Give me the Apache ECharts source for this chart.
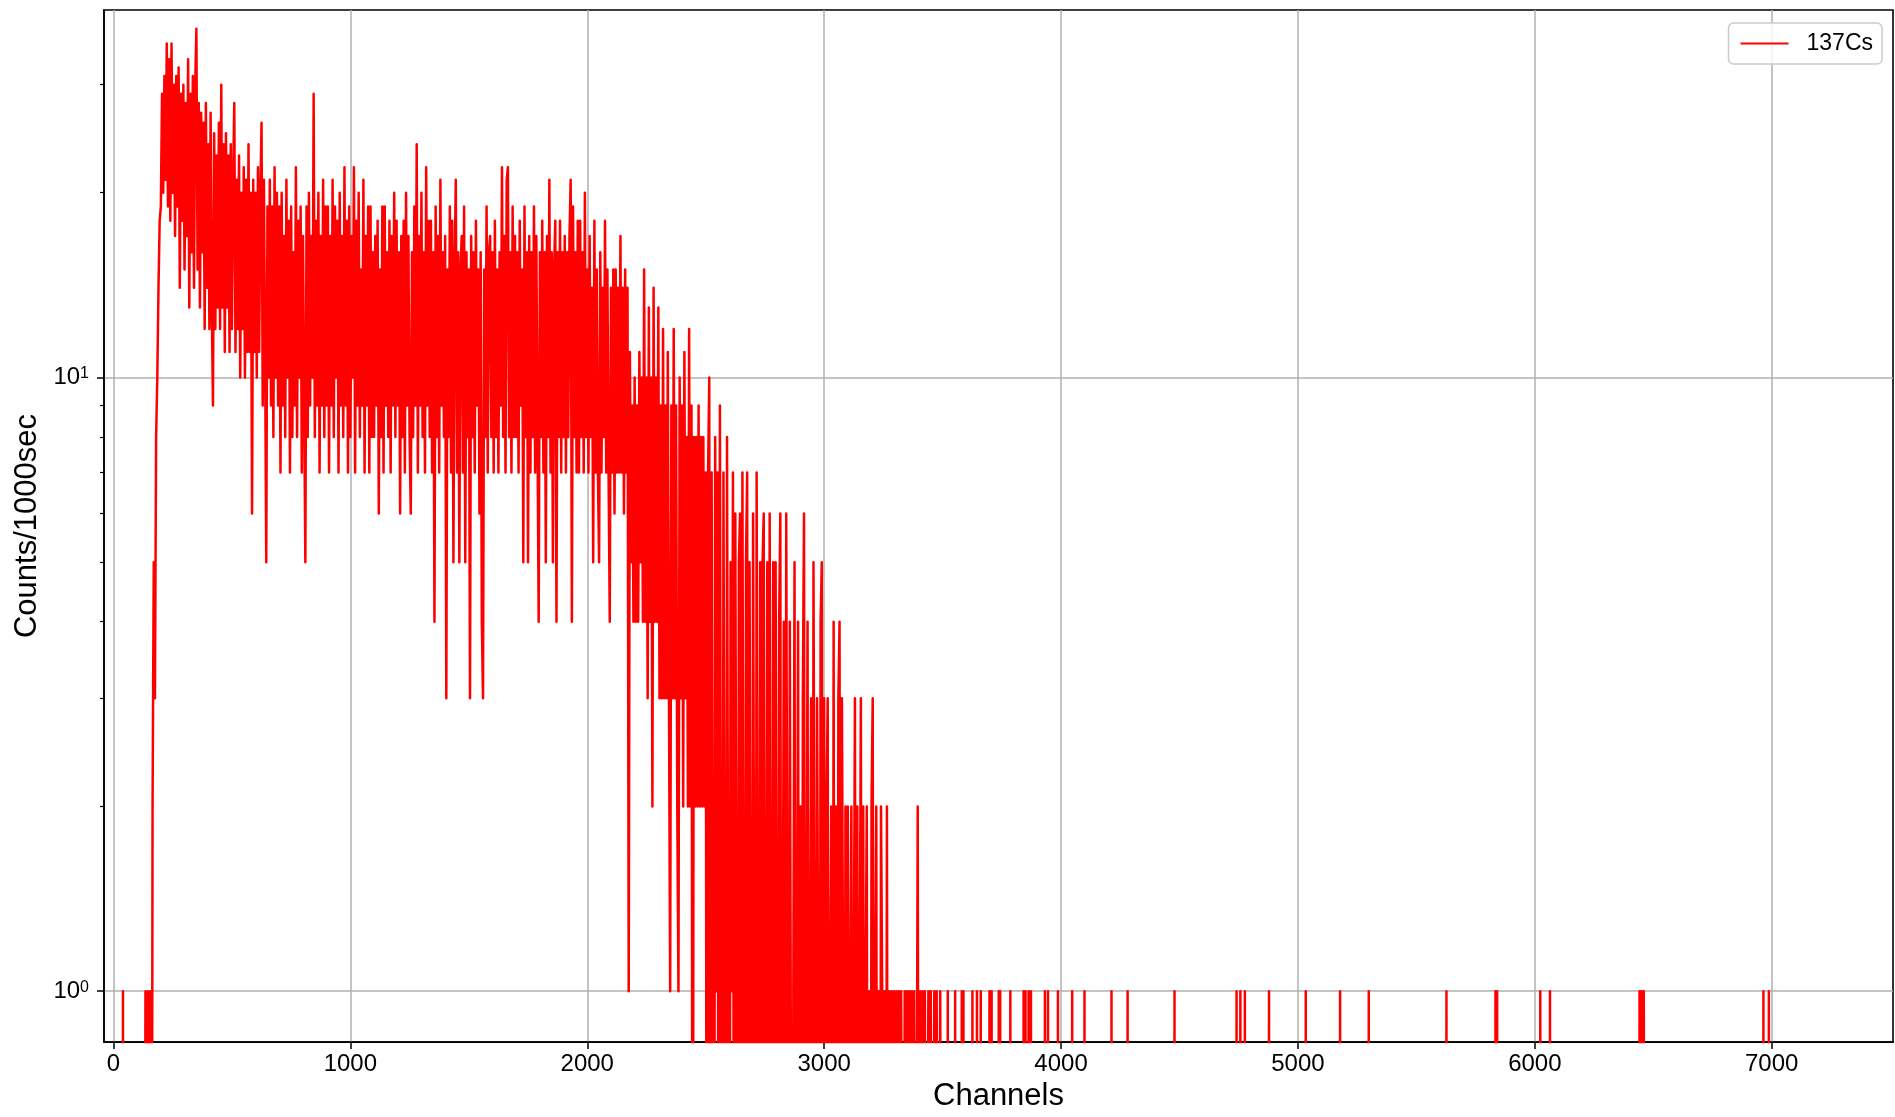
<!DOCTYPE html>
<html>
<head>
<meta charset="utf-8">
<script src="https://cdn.jsdelivr.net/npm/echarts@6/dist/echarts.min.js"></script>
<style>
html,body{margin:0;padding:0;background:#ffffff;}
#chart{width:1895px;height:1117px;}
</style>
</head>
<body>
<div id="chart"></div>
<script>
// ---------------- data ----------------
const seriesName = '137Cs';
const xAxisTitle = 'Channels';
const yAxisTitle = 'Counts/1000sec';

// counts per sampled channel, starting at channel 130, one value every 5 channels, up to channel 3500
const denseStartChannel = 130;
const denseChannelStep = 5;
const denseCounts = [
  0,1,0,1,0,1,0,2,5,3,8,10,14,18,
  19,29,20,31,21,35,19,33,18,35,20,30,17,31,19,32,14,29,18,30,
  15,28,17,33,13,29,16,31,14,30,37,15,28,13,27,16,26,12,28,14,
  24,12,27,13,9,25,12,23,13,26,12,30,13,24,11,25,13,23,11,24,
  12,21,28,11,21,12,23,10,20,12,22,10,21,11,24,11,20,6,21,11,
  20,10,22,11,20,26,9,21,11,5,19,10,21,9,19,8,22,10,20,9,
  19,7,20,9,17,8,21,10,18,7,19,8,16,9,22,8,18,10,19,7,
  17,9,5,19,8,20,9,17,10,29,8,18,9,20,7,17,9,21,8,19,
  9,19,7,17,9,21,8,19,10,18,7,20,9,17,8,22,9,18,7,19,
  8,17,10,22,7,18,9,20,8,15,9,21,7,17,9,19,7,19,8,16,
  8,17,9,18,6,15,8,19,7,19,9,16,8,18,7,17,9,20,8,18,
  9,16,6,17,8,18,7,20,9,17,8,6,16,8,19,9,24,7,17,9,
  20,8,16,7,22,9,18,8,18,7,16,4,19,8,17,7,21,9,16,8,
  17,3,15,8,19,7,18,5,15,21,7,16,5,15,17,7,19,5,16,8,
  15,3,17,8,16,7,18,9,15,6,16,4,3,15,8,19,7,16,17,8,
  16,7,18,8,15,7,16,9,22,8,17,7,21,22,8,16,7,19,8,17,
  8,16,7,18,9,15,5,19,8,16,5,17,7,16,8,19,7,17,8,4,
  16,8,18,7,16,5,17,8,21,7,16,5,15,18,4,16,8,18,7,16,
  8,17,7,16,8,17,21,4,19,8,16,7,18,7,18,8,16,7,20,8,
  15,7,17,8,14,5,18,7,15,7,5,16,7,14,8,18,7,15,7,4,
  14,7,15,6,15,7,14,7,17,7,14,6,15,7,14,1,11,5,9,4,
  10,4,9,4,11,5,10,4,15,4,10,3,13,4,10,2,14,4,10,4,
  13,3,9,3,12,3,9,3,11,3,1,9,3,12,3,9,2,1,10,3,
  9,2,11,3,8,2,12,2,9,0,8,2,8,2,9,2,8,2,8,2,
  7,0,7,10,0,7,1,0,8,1,7,0,9,1,0,7,1,0,8,1,
  0,5,1,7,0,6,1,0,5,6,0,7,1,0,5,7,0,5,1,0,
  6,1,0,7,1,0,5,0,5,6,0,1,5,0,6,1,0,5,0,5,
  1,0,4,6,0,1,4,0,6,1,0,4,4,0,1,5,0,1,4,0,
  2,0,3,6,0,1,4,0,1,3,0,5,1,0,3,1,0,4,5,0,
  3,0,2,3,0,1,2,0,4,0,2,0,3,4,0,3,1,0,2,0,
  2,0,1,2,0,1,3,0,2,0,1,3,0,2,0,1,2,0,1,0,
  2,3,0,1,2,0,1,0,2,1,0,1,0,2,0,1,0,1,0,1,
  0,1,0,1,0,1,1,0,1,0,1,0,1,0,1,0,1,0,0,2,
  0,1,0,1,0,1,0,0,1,0,1,0,0,1,0,1,0,0,1,0,0
];

// single channels holding exactly 1 count (all other channels there are empty)
const singleCountChannels = [
  40,
  3522,3553,3581,3588,3626,3645,3661,3698,3707,3737,3743,3786,3842,3850,3863,3873,3932,3945,3987,
  4047,4099,4213,4281,4479,4741,4757,4776,4878,5033,5178,5299,5627,5834,5841,6023,6064,
  6442,6451,6460,6965,6988
];

const xTicks = [0,1000,2000,3000,4000,5000,6000,7000];
const yMajorTicks = [1,10];
const yMinorTicks = [2,3,4,5,6,7,8,9,20,30];
const xRange = [-40, 7512];
const yRange = [0.826, 39.7];

// ---------------- build series ----------------
const ZERO_DRAW = 0.1;   // empty channels are drawn below the axis floor (like a clipped log plot)
const pts = [];
denseCounts.forEach((v, i) => pts.push([denseStartChannel + i * denseChannelStep, v]));
singleCountChannels.forEach(c => { pts.push([c - 1, 0]); pts.push([c, 1]); pts.push([c + 1, 0]); });
pts.sort((a, b) => a[0] - b[0]);
const lineData = pts.map(p => [p[0], p[1] === 0 ? ZERO_DRAW : p[1]]);

// ---------------- chart ----------------
const FONT = "'Liberation Sans', Arial, Helvetica, sans-serif";
const chart = echarts.init(document.getElementById('chart'), null, {renderer: 'canvas'});
chart.setOption({
  animation: false,
  backgroundColor: '#ffffff',
  textStyle: {fontFamily: FONT, color: '#000'},
  grid: {left: 104, right: 2, top: 10, bottom: 74, containLabel: false,
         show: true, borderColor: '#000', borderWidth: 1.6, backgroundColor: 'transparent'},
  legend: {
    data: [{name: seriesName, icon: 'rect'}], right: 13, top: 23, orient: 'vertical',
    padding: [9, 9, 9, 12], itemWidth: 48, itemHeight: 2,
    backgroundColor: 'rgba(255,255,255,0.8)', borderColor: '#cccccc', borderWidth: 1.5, borderRadius: 5,
    itemStyle: {color: '#ff0000'},
    textStyle: {fontFamily: FONT, fontSize: 23, lineHeight: 22, color: '#000', padding: [0, 0, 0, 13]}
  },
  xAxis: {
    type: 'value', min: xRange[0], max: xRange[1],
    name: xAxisTitle, nameLocation: 'middle', nameGap: 36,
    nameTextStyle: {fontFamily: FONT, fontSize: 31, color: '#000'},
    axisLine: {show: true, onZero: false, lineStyle: {color: '#000', width: 1.6}},
    axisTick: {show: true, customValues: xTicks, length: 7, lineStyle: {color: '#000', width: 1.5}},
    axisLabel: {customValues: xTicks, margin: 10, fontFamily: FONT, fontSize: 24, color: '#000',
                formatter: v => String(v)},
    splitLine: {show: true, lineStyle: {color: '#b0b0b0', width: 1.5}}
  },
  yAxis: [{
    type: 'log', logBase: 10, min: yRange[0], max: yRange[1],
    name: yAxisTitle, nameLocation: 'middle', nameGap: 57,
    nameTextStyle: {fontFamily: FONT, fontSize: 31, color: '#000'},
    axisLine: {show: true, onZero: false, lineStyle: {color: '#000', width: 1.6}},
    axisTick: {show: true, customValues: yMajorTicks, length: 7, lineStyle: {color: '#000', width: 1.5}},
    axisLabel: {
      customValues: yMajorTicks, margin: 15, fontFamily: FONT, fontSize: 24, color: '#000',
      formatter: v => '{b|10}{s|' + Math.round(Math.log10(v)) + '}',
      rich: {
        b: {fontFamily: FONT, fontSize: 24, lineHeight: 24, color: '#000', verticalAlign: 'top'},
        s: {fontFamily: FONT, fontSize: 16, lineHeight: 16, color: '#000', verticalAlign: 'top'}
      }
    },
    splitLine: {show: true, lineStyle: {color: '#b0b0b0', width: 1.5}},
    minorTick: {show: false}
  }, {
    type: 'log', logBase: 10, min: yRange[0], max: yRange[1], position: 'left',
    axisLine: {show: false, onZero: false},
    axisTick: {show: true, customValues: yMinorTicks, length: 4, lineStyle: {color: '#000', width: 1.2}},
    axisLabel: {show: false},
    splitLine: {show: false}
  }],
  series: [{
    name: seriesName, type: 'line', data: lineData,
    xAxisIndex: 0, yAxisIndex: 0,
    symbol: 'none', showSymbol: false, sampling: null, clip: true,
    lineStyle: {color: '#ff0000', width: 2.5, join: 'round', cap: 'butt'},
    itemStyle: {color: '#ff0000'},
    emphasis: {disabled: true}
  }]
});
</script>
</body>
</html>
